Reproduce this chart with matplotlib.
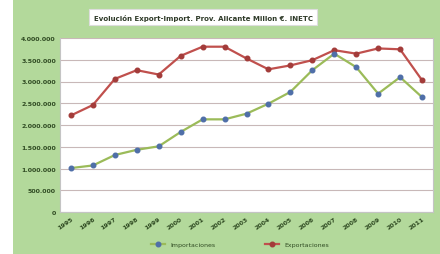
import matplotlib
matplotlib.use("Agg")
import matplotlib.pyplot as plt
from matplotlib.patches import Rectangle
from matplotlib.ticker import FuncFormatter

years = [str(y) for y in range(1995, 2012)]
exportaciones = [2220000, 2460000, 3060000, 3260000, 3160000, 3590000, 3800000, 3800000,
                 3530000, 3280000, 3370000, 3490000, 3720000, 3640000, 3760000, 3740000, 3030000]
importaciones = [1010000, 1070000, 1310000, 1430000, 1510000, 1840000, 2130000, 2130000,
                 2260000, 2490000, 2760000, 3260000, 3640000, 3330000, 2720000, 3100000, 2640000]
title = "Evolución Export-Import. Prov. Alicante Millon €. INETC"

W, H = 440, 255
fig = plt.figure(figsize=(W / 100, H / 100), dpi=100)
fig.patch.set_facecolor("white")
fig.patches.append(Rectangle((13 / W, 0), 1 - 13 / W, 1, transform=fig.transFigure,
                             facecolor="#b3d99b", edgecolor="none", zorder=-5))

ax = fig.add_axes([60 / W, (H - 213) / H, (433 - 60) / W, (213 - 39) / H])
ax.set_zorder(2)
ax.set_facecolor("white")
x = list(range(len(years)))
ax.plot(x, exportaciones, color="#c0504d", lw=1.6, marker="o", ms=3.3,
        mfc="#a33c3a", mec="#a33c3a", label="Exportaciones", zorder=3)
ax.plot(x, importaciones, color="#9bbb59", lw=1.6, marker="o", ms=3.3,
        mfc="#4f6fa8", mec="#4f6fa8", label="Importaciones", zorder=3)

ax.set_xlim(-0.5, len(years) - 0.5)
ax.set_ylim(0, 4000000)
ax.set_yticks(range(0, 4000001, 500000))
ax.yaxis.set_major_formatter(FuncFormatter(lambda v, p: f"{int(v):,}".replace(",", ".")))
ax.grid(axis="y", color="#c8b8b8", lw=0.8)
ax.set_axisbelow(True)
ax.set_xticks(x)
ax.set_xticklabels(years, rotation=35, ha="right", rotation_mode="anchor")
ax.tick_params(axis="both", labelsize=4.5, colors="#2f4a22", length=0, pad=3)
for lab in ax.get_xticklabels() + ax.get_yticklabels():
    lab.set_fontweight("bold")
ax.spines["top"].set_visible(False)
for s in ["left", "bottom", "right"]:
    ax.spines[s].set_color("#c4c4c4")
    ax.spines[s].set_linewidth(0.8)

handles, labels = ax.get_legend_handles_labels()
fig.legend([handles[1], handles[0]], [labels[1], labels[0]], loc="center",
           bbox_to_anchor=(240 / W, 1 - 245 / H), ncol=2, frameon=False,
           fontsize=4.5, handlelength=2.2, columnspacing=8, labelcolor="#2f4a22")

fig.text(203 / W, 1 - 18 / H, title, ha="center", va="center", fontsize=5.0,
         fontweight="bold", color="#2e3a28",
         bbox=dict(boxstyle="square,pad=0.7", facecolor="white", edgecolor="#dddddd", lw=0.8))

fig.savefig("out.png", dpi=100)
